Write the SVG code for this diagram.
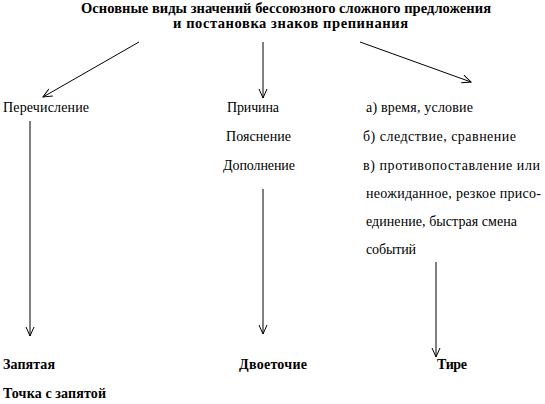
<svg xmlns="http://www.w3.org/2000/svg" width="545" height="404" viewBox="0 0 545 404">
<defs>
<marker id="arr" markerUnits="userSpaceOnUse" markerWidth="12" markerHeight="12" refX="10" refY="5" orient="auto" viewBox="0 0 12 10">
<path d="M1,1 L10,5 L1,9" fill="none" stroke="#000" stroke-width="1"/>
</marker>
</defs>
<style>
.t{font-size:14.5px;font-weight:bold}
.n{font-size:14px;font-weight:normal}
.b{font-size:14px;font-weight:bold}
.c{stroke:#000;stroke-width:1;fill:none}
</style>
<rect width="545" height="404" fill="#fff"/>
<g font-family="'Liberation Serif', 'Times New Roman', serif" fill="#000">
<g id="title">
<text class="t" x="81" y="13" textLength="410" lengthAdjust="spacing">Основные виды значений бессоюзного сложного предложения</text>
<text class="t" x="173" y="28" textLength="235" lengthAdjust="spacing">и постановка знаков препинания</text>
</g>
<g id="enum">
<text class="n" x="3" y="112" textLength="86" lengthAdjust="spacing">Перечисление</text>
</g>
<g id="colon-group">
<text class="n" x="227" y="112" textLength="52" lengthAdjust="spacing">Причина</text>
<text class="n" x="226" y="141" textLength="65" lengthAdjust="spacing">Пояснение</text>
<text class="n" x="223" y="170" textLength="72" lengthAdjust="spacing">Дополнение</text>
</g>
<g id="dash-group">
<text class="n" x="366" y="112" textLength="107" lengthAdjust="spacing">а) время, условие</text>
<text class="n" x="363" y="141" textLength="153" lengthAdjust="spacing">б) следствие, сравнение</text>
<text class="n" x="363" y="170" textLength="177" lengthAdjust="spacing">в) противопоставление или</text>
<text class="n" x="366" y="198" textLength="175" lengthAdjust="spacing">неожиданное, резкое  присо-</text>
<text class="n" x="366" y="226" textLength="151" lengthAdjust="spacing">единение, быстрая смена</text>
<text class="n" x="366" y="254" textLength="50" lengthAdjust="spacing">событий</text>
</g>
<g id="comma">
<text class="b" x="3" y="369" textLength="52" lengthAdjust="spacing">Запятая</text>
<text class="b" x="3" y="398" textLength="103" lengthAdjust="spacing">Точка с запятой</text>
</g>
<g id="colon">
<text class="b" x="239" y="369" textLength="68" lengthAdjust="spacing">Двоеточие</text>
</g>
<g id="dash">
<text class="b" x="437" y="369" textLength="30" lengthAdjust="spacing">Тире</text>
</g>
</g>
<g id="connectors">
<line class="c" x1="139" y1="42" x2="43" y2="97" marker-end="url(#arr)"/>
<line class="c" x1="263" y1="42" x2="263" y2="98" marker-end="url(#arr)"/>
<line class="c" x1="360" y1="42" x2="471" y2="82" marker-end="url(#arr)"/>
<line class="c" x1="30" y1="121" x2="30" y2="336" marker-end="url(#arr)"/>
<line class="c" x1="263" y1="189" x2="263" y2="334" marker-end="url(#arr)"/>
<line class="c" x1="436" y1="262" x2="436" y2="357" marker-end="url(#arr)"/>
</g>
</svg>
